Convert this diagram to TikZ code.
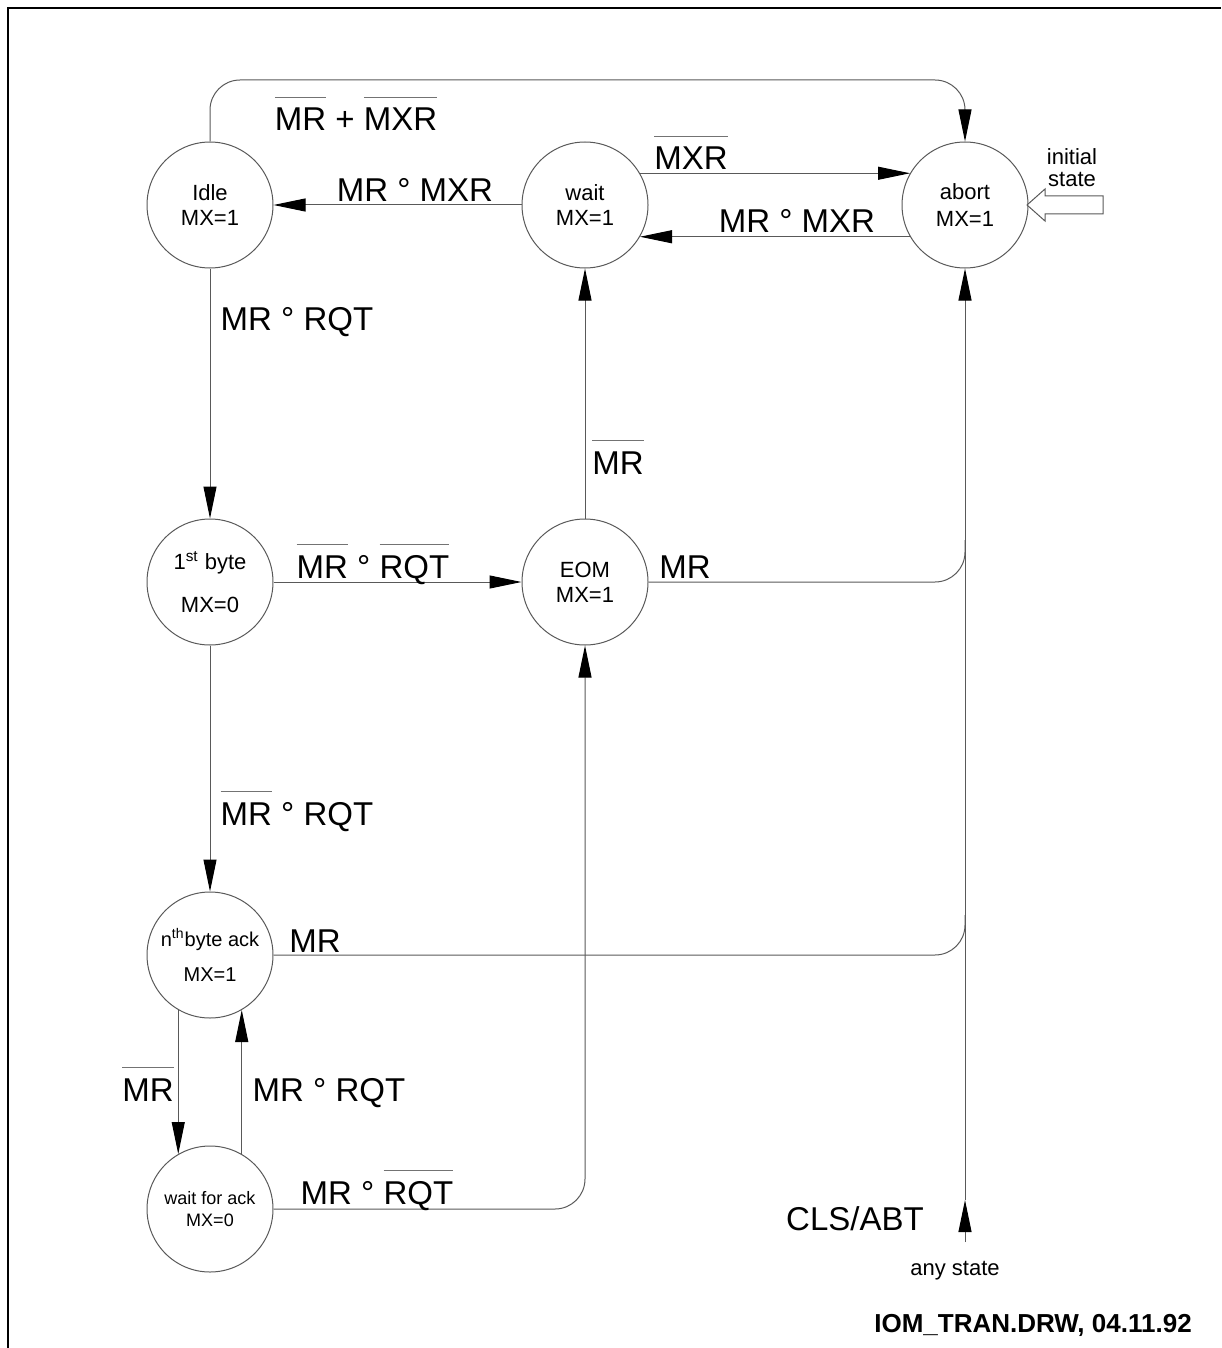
\documentclass[tikz,border=0pt]{standalone}
\usepackage{fontspec}
\setmainfont{Liberation Sans}
\usetikzlibrary{arrows.meta}
\newcommand\ovl[1]{\vbox{\color{black!55}\hrule height 0.5pt\kern 5pt\hbox{\color{black}#1}}}
\tikzset{
  st/.style={circle,draw=black!65,line width=0.5pt,minimum size=63pt,inner sep=0pt,align=center,font=\fontsize{11}{12.5}\selectfont},
  ln/.style={draw=black!65,line width=0.5pt},
  arr/.style={ln,-{Triangle[length=16pt,width=6.5pt,black]}},
  lbl/.style={anchor=base,inner sep=0pt,font=\fontsize{16.5}{18}\selectfont},
  sml/.style={inner sep=0pt,font=\fontsize{11}{11}\selectfont,align=center},
}
\begin{document}
\begin{tikzpicture}[x=0.5pt,y=-0.5pt]
\useasboundingbox (0,0) rectangle (1221,1348);
\draw[line width=1pt] (8,1348) -- (8,8) -- (1221,8);

% states
\node[st] (idle)  at (210,205) {Idle\\MX=1};
\node[st] (wait)  at (585,205) {wait\\MX=1};
\node[st] (abort) at (965,205) {abort\\[1pt]MX=1};
\node[st] (first) at (210,582) {1\textsuperscript{st} byte\\[9pt]MX=0};
\node[st] (eom)   at (585,582) {EOM\\MX=1};
\node[st,font=\fontsize{10}{12}\selectfont] (nth) at (210,955) {n\textsuperscript{th}byte ack\\[5.5pt]MX=1};
\node[st,font=\fontsize{9}{11}\selectfont] (wfa) at (210,1209) {wait for ack\\MX=0};

% helper coordinates
\coordinate (top) at (587,80);
\coordinate (j1) at (965,540);
\coordinate (j2) at (965,915);
\coordinate (any) at (965,1242);
\coordinate (mid) at (965,1200);

% connectors
\draw[arr] (wait.west) -- (idle.east);
\draw[arr] (wait.30) -- (abort.150);
\draw[arr] (abort.210) -- (wait.330);
\draw[arr,rounded corners=15pt] (idle.north) -- (idle.north |- top) -- (abort.north |- top) -- (abort.north);
\draw[arr] (idle.south) -- (first.north);
\draw[arr] (first.east) -- (eom.west);
\draw[arr] (eom.north) -- (wait.south);
\draw[ln,rounded corners=15pt] (eom.east) -| (j1);
\draw[arr] (first.south) -- (nth.north);
\draw[ln,rounded corners=15pt] (nth.east) -| (j2);
\draw[arr] (nth.240) -- (wfa.120);
\draw[arr] (wfa.60) -- (nth.300);
\draw[arr,rounded corners=15pt] (wfa.east) -| (eom.south);
\draw[arr] (any) -- (mid);
\draw[arr] (mid) -- (abort.south);

% initial state marker
\draw[ln,fill=white] (1027,205) -- (1045,189) -- (1045,196) -- (1103,196) -- (1103,214) -- (1045,214) -- (1045,221) -- cycle;
\node[sml] (init) at (1072,168) {initial\\state};

% labels
\node[lbl] (l1) at (356,131) {\ovl{MR} + \ovl{MXR}};
\node[lbl] (l2) at (415,202) {MR ° MXR};
\node[lbl] (l3) at (691,170) {\ovl{MXR}};
\node[lbl] (l4) at (797,233) {MR ° MXR};
\node[lbl] (l5) at (297,330) {MR ° RQT};
\node[lbl] (l6) at (373,578) {\ovl{MR} ° \ovl{RQT}};
\node[lbl] (l7) at (618,474) {\ovl{MR}};
\node[lbl] (l8) at (685,578) {MR};
\node[lbl] (l9) at (297,825) {\ovl{MR} ° RQT};
\node[lbl] (l10) at (315,952) {MR};
\node[lbl] (l11) at (148,1101) {\ovl{MR}};
\node[lbl] (l12) at (329,1101) {MR ° RQT};
\node[lbl] (l13) at (377,1204) {MR ° \ovl{RQT}};
\node[lbl] (l14) at (855,1230) {CLS/ABT};
\node[lbl,font=\fontsize{11}{12}\selectfont] (l15) at (955,1275) {any state};
\node[lbl,font=\fontsize{13}{14}\selectfont\bfseries] (l16) at (1033,1332) {IOM\_TRAN.DRW, 04.11.92};
\end{tikzpicture}
\end{document}
